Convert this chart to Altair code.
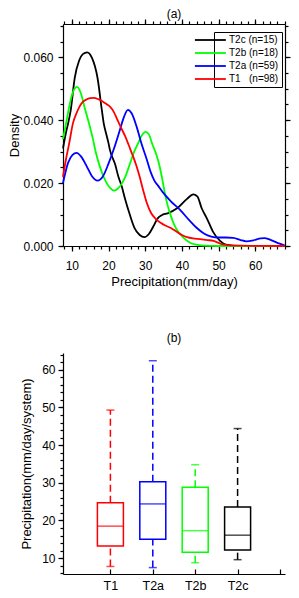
import altair as alt
import pandas as pd

FONT = "Liberation Sans"

# ---------------- Panel (a): density curves ----------------
series_names = ["T2c (n=15)", "T2b (n=18)", "T2a (n=59)", "T1\u00a0\u00a0\u00a0(n=98)"]
series_colors = ["#000000", "#00ff00", "#0000ff", "#ff0000"]

t2c_x = [7.6, 8.4, 9.0, 9.7, 10.8, 12.0, 13.0, 14.2, 15.5, 17.0, 18.2, 18.7, 19.3, 20.0, 20.4,
         21.8, 22.7, 23.6, 24.5, 25.8, 27.1, 28.5, 29.8, 31.0, 32.2, 33.4, 34.5, 36.1, 38.7,
         41.4, 43.1, 44.2, 45.4, 46.8, 48.5, 50.4, 52.0, 54.0, 58.0, 68.0]
t2c_y = [0.031, 0.036, 0.039, 0.0431, 0.0535, 0.0590, 0.0610, 0.0616, 0.0598, 0.0535, 0.0431,
         0.0390, 0.0360, 0.0327, 0.0305, 0.0260, 0.0220, 0.0190, 0.0150, 0.0100, 0.0057, 0.0035,
         0.0028, 0.0038, 0.0062, 0.0088, 0.0098, 0.0104, 0.0120, 0.0150, 0.0164, 0.0158, 0.0120,
         0.0088, 0.0045, 0.0016, 0.0004, 0.0001, 0.0, 0.0]

t2b_x = [7.6, 8.6, 9.5, 10.5, 11.4, 12.4, 13.5, 14.8, 15.7, 16.5, 17.5, 18.5, 19.5, 20.5, 21.5,
         22.5, 23.5, 24.5, 25.8, 27.0, 28.0, 29.0, 30.1, 31.0, 32.0, 33.0, 33.8, 34.7, 35.4,
         36.1, 37.0, 37.9, 39.0, 40.5, 42.0, 43.5, 46.0, 50.0, 68.0]
t2b_y = [0.034, 0.040, 0.0455, 0.0495, 0.0506, 0.0488, 0.0440, 0.0385, 0.0343, 0.0300, 0.0258,
         0.0225, 0.0200, 0.0184, 0.0176, 0.0182, 0.0196, 0.0218, 0.0260, 0.0300, 0.0325, 0.0350,
         0.0363, 0.0355, 0.0322, 0.0292, 0.0260, 0.0210, 0.0165, 0.0130, 0.0095, 0.0068, 0.0045,
         0.0026, 0.0012, 0.0005, 0.0001, 0.0, 0.0]

t2a_x = [7.6, 9.0, 10.2, 11.3, 12.5, 14.0, 15.5, 17.0, 18.5, 20.0, 21.5, 23.0, 24.2, 25.3, 26.3,
         27.6, 29.0, 30.3, 31.5, 32.5, 33.5, 35.0, 37.0, 39.5, 42.0, 44.0, 46.0, 48.0, 50.0,
         52.0, 54.0, 56.0, 57.5, 59.5, 61.5, 62.5, 64.0, 66.0, 68.0]
t2a_y = [0.020, 0.0265, 0.0290, 0.0296, 0.0285, 0.0255, 0.0222, 0.0208, 0.0222, 0.0262, 0.0310,
         0.0365, 0.0410, 0.0433, 0.0422, 0.0382, 0.0325, 0.0280, 0.0235, 0.0208, 0.0192, 0.0168,
         0.0142, 0.0115, 0.0082, 0.0058, 0.0040, 0.0030, 0.0027, 0.0027, 0.0026, 0.0019, 0.0015,
         0.0018, 0.0024, 0.0025, 0.0020, 0.0010, 0.0002]

t1_x = [7.6, 8.4, 9.3, 10.3, 11.2, 12.0, 13.0, 14.0, 15.0, 16.0, 17.2, 18.5, 19.6, 20.4, 21.5,
        22.4, 23.1, 24.5, 25.8, 26.7, 27.6, 28.5, 29.5, 30.5, 31.6, 33.0, 34.3, 35.5, 37.0,
        38.5, 40.0, 41.4, 43.0, 45.0, 47.0, 48.6, 50.0, 51.3, 53.0, 56.0, 60.0, 68.0]
t1_y = [0.022, 0.0275, 0.0327, 0.0390, 0.0420, 0.0441, 0.0458, 0.0466, 0.0470, 0.0471, 0.0467,
        0.0459, 0.0450, 0.0443, 0.0425, 0.0402, 0.0384, 0.0350, 0.0312, 0.0285, 0.0255, 0.0220,
        0.0175, 0.0135, 0.0105, 0.0085, 0.0073, 0.0065, 0.0057, 0.0046, 0.0035, 0.0028, 0.0024,
        0.0022, 0.0019, 0.0016, 0.0010, 0.0004, 0.0002, 0.0001, 0.00005, 0.0]

a_x_major = [10, 20, 30, 40, 50, 60]
a_x_minor = list(range(8, 69, 2))
a_y_major = [0.0, 0.02, 0.04, 0.06]
a_y_minor = [round(0.005 * i, 3) for i in range(15)]

rows = []
for name, xs_, ys_ in zip(series_names, [t2c_x, t2b_x, t2a_x, t1_x], [t2c_y, t2b_y, t2a_y, t1_y]):
    for xv, yv in zip(xs_, ys_):
        rows.append({"series": name, "x": xv, "y": yv})
df_a = pd.DataFrame(rows)

W = 222
A_H = 222
B_H = 221

xs = alt.Scale(domain=[7.6, 68.1], nice=False, zero=False)
ys = alt.Scale(domain=[0, 0.0706], nice=False, zero=False)


def axis(orient, values, size, **kw):
    base = dict(orient=orient, values=values, tickSize=size, grid=False)
    base.update(kw)
    return alt.Axis(**base)


def no_labels(orient, values, size, domain):
    return axis(orient, values, size, labels=False, title=None, domain=domain)


lines = alt.Chart(df_a).mark_line(strokeWidth=1.8, interpolate="monotone").encode(
    x=alt.X("x:Q", scale=xs, axis=axis("bottom", a_x_major, 5, labelPadding=9, format="d",
                                          title="Precipitation(mm/day)", titlePadding=4)),
    y=alt.Y("y:Q", scale=ys, axis=axis("left", a_y_major, 5, labelPadding=5, format=".3f",
                                          title="Density", titlePadding=1)),
    color=alt.Color("series:N",
                    scale=alt.Scale(domain=series_names, range=series_colors),
                    legend=alt.Legend(title=None, orient="none", legendX=151, legendY=8,
                                      symbolType="M-7,0H1", symbolSize=60,
                                      symbolStrokeWidth=1.8, labelFont=FONT,
                                      labelFontSize=10, labelOffset=2, rowPadding=3,
                                      padding=3, strokeColor="black", fillColor="white",
                                      cornerRadius=0)),
)

ghost = alt.Chart(df_a).mark_line(opacity=0)
minor_bl = ghost.encode(
    x=alt.X("x:Q", scale=xs, axis=no_labels("bottom", a_x_minor, 3, False)),
    y=alt.Y("y:Q", scale=ys, axis=no_labels("left", a_y_minor, 3, False)),
)
major_tr = ghost.encode(
    x=alt.X("x:Q", scale=xs, axis=no_labels("top", a_x_major, 5, True)),
    y=alt.Y("y:Q", scale=ys, axis=no_labels("right", a_y_major, 5, True)),
)
minor_tr = ghost.encode(
    x=alt.X("x:Q", scale=xs, axis=no_labels("top", a_x_minor, 3, False)),
    y=alt.Y("y:Q", scale=ys, axis=no_labels("right", a_y_minor, 3, False)),
)

panel_a = alt.layer(lines, minor_bl, major_tr, minor_tr).resolve_axis(
    x="independent", y="independent"
).properties(
    width=W, height=A_H,
    title=alt.TitleParams("(a)", font=FONT, fontSize=12, fontWeight="normal",
                          frame="group", offset=-3, anchor="middle"),
)

# ---------------- Panel (b): box plots ----------------
box_cats = ["T1", "T2a", "T2b", "T2c"]
box_pos = [1, 2, 3, 4]
box_colors = ["#ff0000", "#0000ff", "#00ff00", "#000000"]
box_low = [7.8, 7.5, 8.8, 9.6]
box_q1 = [13.2, 15.0, 11.6, 12.2]
box_med = [18.5, 24.4, 17.3, 16.1]
box_q3 = [24.7, 30.3, 28.8, 23.6]
box_up = [49.3, 62.4, 34.8, 44.4]

b_y_major = [10, 20, 30, 40, 50, 60]
b_y_minor = list(range(6, 65, 2))
b_x_ticks = [1, 2, 3, 4, 5]

df_b = pd.DataFrame({"pos": box_pos, "cat": box_cats, "low": box_low, "q1": box_q1,
                     "med": box_med, "q3": box_q3, "up": box_up})

bx = alt.Scale(domain=[0, 5], nice=False, zero=False)
by = alt.Scale(domain=[5.8, 64.45], nice=False, zero=False)
bcol = alt.Scale(domain=box_cats, range=box_colors)
label_expr = "[" + ",".join('"%s"' % c for c in box_cats) + "][datum.value-1]"

base_b = alt.Chart(df_b)

boxes = base_b.mark_bar(size=26, fillOpacity=0, strokeWidth=1.5).encode(
    x=alt.X("pos:Q", scale=bx, axis=axis("bottom", box_pos, 0, ticks=False, labelPadding=5,
                                          labelExpr=label_expr, title=None, domain=True,
                                          labelFontSize=12.5)),
    y=alt.Y("q1:Q", scale=by, axis=axis("left", b_y_major, 5, labelPadding=3,
                                         title="Precipitation(mm/day/system)",
                                         titlePadding=8)),
    y2="q3:Q",
    stroke=alt.Color("cat:N", scale=bcol, legend=None),
)

upper = base_b.mark_rule(strokeWidth=1.5, strokeDash=[7, 4]).encode(
    x=alt.X("pos:Q", scale=bx, axis=axis("top", b_x_ticks, 5, offset=-B_H, labels=False,
                                          title=None, domain=False)),
    y=alt.Y("q3:Q", scale=by, axis=no_labels("left", b_y_minor, 3, False)),
    y2="up:Q",
    color=alt.Color("cat:N", scale=bcol, legend=None),
)

lower = base_b.mark_rule(strokeWidth=1.5, strokeDash=[7, 4]).encode(
    x=alt.X("pos:Q", scale=bx, axis=None),
    y=alt.Y("low:Q", scale=by, axis=None),
    y2="q1:Q",
    color=alt.Color("cat:N", scale=bcol, legend=None),
)

cap_hi = base_b.mark_tick(orient="horizontal", size=8, thickness=1.5).encode(
    x=alt.X("pos:Q", scale=bx, axis=None),
    y=alt.Y("up:Q", scale=by, axis=None),
    color=alt.Color("cat:N", scale=bcol, legend=None),
)
cap_lo = base_b.mark_tick(orient="horizontal", size=8, thickness=1.5).encode(
    x=alt.X("pos:Q", scale=bx, axis=None),
    y=alt.Y("low:Q", scale=by, axis=None),
    color=alt.Color("cat:N", scale=bcol, legend=None),
)
medians = base_b.mark_tick(orient="horizontal", size=26, thickness=1.5).encode(
    x=alt.X("pos:Q", scale=bx, axis=None),
    y=alt.Y("med:Q", scale=by, axis=None),
    color=alt.Color("cat:N", scale=bcol, legend=None),
)

panel_b = alt.layer(boxes, upper, lower, cap_hi, cap_lo, medians).resolve_axis(
    x="independent", y="independent"
).properties(
    width=W, height=B_H,
    title=alt.TitleParams("(b)", font=FONT, fontSize=12, fontWeight="normal",
                          frame="group", offset=8, anchor="middle"),
)

chart = alt.vconcat(panel_a, panel_b, spacing=107, bounds="flush").resolve_scale(
    color="independent", stroke="independent"
).properties(
    padding=0
).configure_view(stroke=None).configure_axis(
    labelFont=FONT, labelFontSize=12, labelColor="black",
    titleFont=FONT, titleFontSize=13, titleFontWeight="normal", titleColor="black",
    domainColor="black", domainWidth=1.2, tickColor="black", tickWidth=1.2,
)

chart.save("out.html", embed_options={"renderer": "svg", "actions": False})
